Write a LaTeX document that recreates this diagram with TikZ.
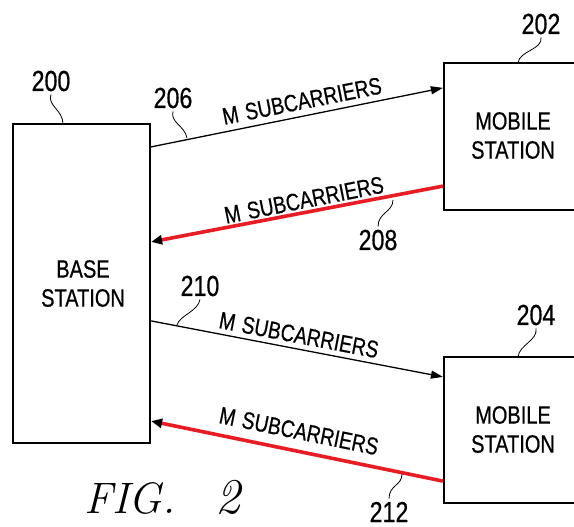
\documentclass[tikz,border=0pt]{standalone}
\usepackage{fontspec}
\newfontfamily\lab[FakeStretch=0.8,FakeBold=0.6]{Liberation Sans}
\usetikzlibrary{arrows.meta}
\definecolor{sigred}{RGB}{232,28,36}
\tikzset{
  box/.style={draw=black,line width=2.2pt,inner sep=0pt,align=center,
    font=\lab\fontsize{25}{29}\selectfont},
  boxtext/.style={inner sep=0pt,align=center,font=\lab\fontsize{25}{29}\selectfont},
  num/.style={font=\lab\fontsize{29}{30}\selectfont,inner sep=0pt},
  sub/.style={font=\lab\fontsize{24}{26}\selectfont,inner sep=0pt},
  fwd/.style={draw=black,line width=1.3pt,-{Triangle[length=12pt,width=8pt]}},
  rev/.style={draw=sigred,line width=3.6pt,-{Triangle[length=11pt,width=9pt,color=black]}},
  lead/.style={draw=black,line width=0.8pt},
}
\begin{document}
\begin{tikzpicture}[x=1pt,y=-1pt]
\useasboundingbox (0,0) rectangle (574,527);
\clip (0,0) rectangle (574,527);
% boxes
\node[box,minimum width=137pt,minimum height=319pt] (base) at (81.5,283.5) {};
\node[boxtext] (basetxt) at (83,283.5) {BASE\\STATION};
\node[box,minimum width=140pt,minimum height=147pt] (ms1) at (514,136.5) {};
\node[boxtext] (ms1txt) at (513,135.5) {MOBILE\\STATION};
\node[box,minimum width=140pt,minimum height=146pt] (ms2) at (514,430) {};
\node[boxtext] (ms2txt) at (513,429.5) {MOBILE\\STATION};
% connectors
\draw[fwd] ([yshift=-24pt]base.north east) -- ([yshift=-26pt]ms1.north west);
\draw[rev] ([yshift=25pt]ms1.south west) -- ([yshift=-119pt]base.north east);
\draw[fwd] ([yshift=-198pt]base.north east) -- ([yshift=-21pt]ms2.north west);
\draw[rev] ([yshift=23pt]ms2.south west) -- ([yshift=23pt]base.south east);
% link labels
\node[sub,rotate=11.3] (l206) at (302,101) {M\hspace{7pt}SUBCARRIERS};
\node[sub,rotate=11.2] (l208) at (304,200) {M\hspace{7pt}SUBCARRIERS};
\node[sub,rotate=-10.8] (l210) at (299,335) {M\hspace{7pt}SUBCARRIERS};
\node[sub,rotate=-11.5] (l212) at (299,431) {M\hspace{7pt}SUBCARRIERS};
% reference numerals
\node[num] (n200) at (51,81) {200};
\node[num] (n206) at (173,98) {206};
\node[num] (n202) at (541,24) {202};
\node[num] (n208) at (378,240) {208};
\node[num] (n210) at (200,286) {210};
\node[num] (n204) at (536,315) {204};
\node[num] (n212) at (389,512) {212};
\coordinate (e200) at (63,124);
\coordinate (e206) at (187,138);
\coordinate (e202) at (518,63);
\coordinate (e208) at (393,200);
\coordinate (e210) at (177,325);
\coordinate (e204) at (518,357);
\coordinate (e212) at (402,474);
\draw[lead] ([yshift=-3pt]n200.south) .. controls +(-4,11) and +(0,-14) .. (e200);
\draw[lead] ([yshift=-3pt]n206.south) .. controls +(-3,11) and +(-2,-12) .. (e206);
\draw[lead] ([yshift=-3pt]n202.south) .. controls +(2,12) and +(1,-12) .. (e202);
\draw[lead] ([yshift=-3pt]n204.south) .. controls +(2,12) and +(1,-12) .. (e204);
\draw[lead] ([yshift=3pt]n208.north) .. controls +(0,-14) and +(0,12) .. (e208);
\draw[lead] ([yshift=-3pt]n210.south) .. controls +(-2,12) and +(3,-10) .. (e210);
\draw[lead] ([yshift=3pt]n212.north) .. controls +(0,-14) and +(0,12) .. (e212);
% caption
\node[font=\fontsize{44}{46}\selectfont\itshape,inner sep=0pt,anchor=base west] (fig) at (84,513) {FIG.\hspace{40pt}{\fontsize{50}{50}\selectfont 2}};
\end{tikzpicture}
\end{document}
